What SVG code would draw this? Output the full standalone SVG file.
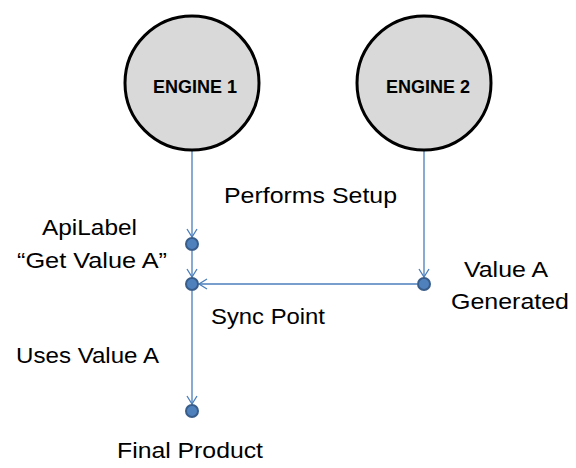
<svg xmlns="http://www.w3.org/2000/svg" width="576" height="468" viewBox="0 0 576 468">
<style>
.engine{fill:#d9d9d9;stroke:#000;stroke-width:3}
.etext{font-family:"Liberation Sans",Arial,sans-serif;font-weight:bold;font-size:18px;fill:#000;text-anchor:middle}
.lbl{font-family:"Liberation Sans",Arial,sans-serif;font-size:22px;fill:#000}
.conn{stroke:#4a7ebb;stroke-width:1.3;fill:none}
.dot{fill:#4f81bd;stroke:#385d8a;stroke-width:2}
</style>
<defs>
<marker id="arr" markerUnits="userSpaceOnUse" markerWidth="12" markerHeight="12" viewBox="-10 -6 12 12" refX="0" refY="0" orient="auto">
<path d="M-8,-5 L0,0 L-8,5" fill="none" stroke="#4a7ebb" stroke-width="1.3"/>
</marker>
</defs>
<rect width="576" height="468" fill="#fff"/>
<g id="connectors">
<line class="conn" x1="192" y1="150" x2="192" y2="237" marker-end="url(#arr)"/>
<line class="conn" x1="192" y1="251" x2="192" y2="277" marker-end="url(#arr)"/>
<line class="conn" x1="192" y1="291" x2="192" y2="404" marker-end="url(#arr)"/>
<line class="conn" x1="424" y1="150" x2="424" y2="277" marker-end="url(#arr)"/>
<line class="conn" x1="417" y1="284" x2="199" y2="284" marker-end="url(#arr)"/>
</g>
<g id="engine1">
<circle class="engine" cx="192" cy="83" r="67"/>
<text class="etext" x="195" y="93">ENGINE 1</text>
</g>
<g id="engine2">
<circle class="engine" cx="424" cy="83" r="67"/>
<text class="etext" x="428" y="93">ENGINE 2</text>
</g>
<g id="performs-setup">
<text class="lbl" x="224" y="203" textLength="173" lengthAdjust="spacingAndGlyphs">Performs Setup</text>
</g>
<g id="apilabel">
<circle class="dot" cx="192" cy="244" r="6"/>
<text class="lbl" x="42" y="235" textLength="95" lengthAdjust="spacingAndGlyphs">ApiLabel</text>
<text class="lbl" x="17" y="268" textLength="150" lengthAdjust="spacingAndGlyphs">“Get Value A”</text>
</g>
<g id="sync-point">
<circle class="dot" cx="192" cy="284" r="6"/>
<text class="lbl" x="211" y="324" textLength="114" lengthAdjust="spacingAndGlyphs">Sync Point</text>
</g>
<g id="value-a">
<circle class="dot" cx="424" cy="284" r="6"/>
<text class="lbl" x="464" y="277" textLength="84" lengthAdjust="spacingAndGlyphs">Value A</text>
<text class="lbl" x="451" y="309" textLength="118" lengthAdjust="spacingAndGlyphs">Generated</text>
</g>
<g id="uses-value-a">
<text class="lbl" x="16" y="363" textLength="143" lengthAdjust="spacingAndGlyphs">Uses Value A</text>
</g>
<g id="final-product">
<circle class="dot" cx="192" cy="411" r="6"/>
<text class="lbl" x="117" y="458" textLength="146" lengthAdjust="spacingAndGlyphs">Final Product</text>
</g>
</svg>
